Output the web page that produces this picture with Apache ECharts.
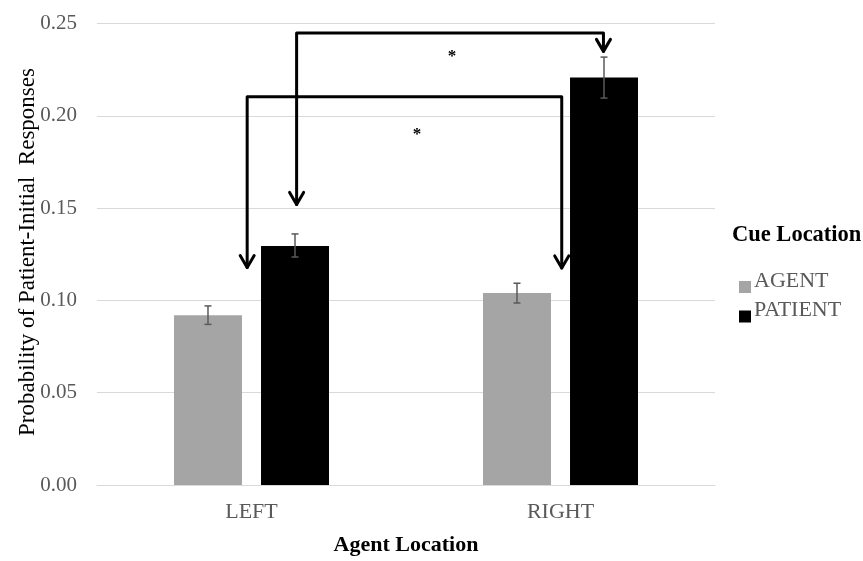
<!DOCTYPE html>
<html>
<head>
<meta charset="utf-8">
<script src="https://cdn.jsdelivr.net/npm/echarts@6/dist/echarts.min.js"></script>
<style>html,body{margin:0;padding:0;background:#fff;overflow:hidden;}#c{width:863px;height:561px;}</style>
</head>
<body>
<div id="c"></div>
<script>
// ---- data ----
const categories = ['LEFT', 'RIGHT'];
const seriesNames = ['AGENT', 'PATIENT'];
const agentValues = [0.092, 0.104];
const patientValues = [0.1295, 0.2207];
const agentErrLow = [0.087, 0.0986];
const agentErrHigh = [0.097, 0.1093];
const patientErrLow = [0.1235, 0.2096];
const patientErrHigh = [0.136, 0.2318];
const yTicks = [0, 0.05, 0.10, 0.15, 0.20, 0.25];
// brackets: [leftCat, leftOffset(band), leftTipValue, rightCat, rightOffset(band), rightTipValue, topValue]
const brackets = [
  [0, 0.146, 0.152, 1, 0.139, 0.2349, 0.2448],
  [0, -0.014, 0.1178, 1, 0.004, 0.1176, 0.2103]
];
// significance stars: [category position (band units), value, label]
const stars = [
  [0.649, 0.2322, '*'],
  [0.536, 0.1898, '*']
];

const FONT = '"Liberation Serif", "Times New Roman", serif';
const BAR_W = 0.22, BAR_GAP = 0.28;
const colors = ['#a5a5a5', '#000000'];

const chart = echarts.init(document.getElementById('c'), null, {renderer: 'canvas'});

function errorSeries(idx, low, high) {
  return {
    type: 'custom',
    name: seriesNames[idx] + ' err',
    silent: true,
    z: 5,
    data: low.map((l, i) => [i, l, high[i]]),
    renderItem: function (params, api) {
      const i = params.dataIndex;
      const band = api.size([1, 0])[0];
      const off = (idx === 0 ? -1 : 1) * (BAR_W + BAR_W * BAR_GAP) / 2 * band;
      const lo = api.coord([i, low[i]]);
      const hi = api.coord([i, high[i]]);
      const x = lo[0] + off;
      const cap = 3.5;
      const style = {stroke: '#595959', lineWidth: 1.5, fill: null};
      return {
        type: 'group',
        children: [
          {type: 'line', shape: {x1: x, y1: lo[1], x2: x, y2: hi[1]}, style: style},
          {type: 'line', shape: {x1: x - cap, y1: lo[1], x2: x + cap, y2: lo[1]}, style: style},
          {type: 'line', shape: {x1: x - cap, y1: hi[1], x2: x + cap, y2: hi[1]}, style: style}
        ]
      };
    }
  };
}

const legendIcon = 'path://M0,0 L0,0 M0,12 L12,12 L12,24 L0,24 Z';

const option = {
  backgroundColor: '#ffffff',
  animation: false,
  grid: {left: 97, top: 23.5, width: 618, height: 467.5, containLabel: false},
  legend: {
    data: seriesNames,
    orient: 'vertical',
    left: 739,
    top: 269,
    padding: 0,
    itemWidth: 12,
    itemHeight: 24,
    itemGap: 5.5,
    icon: legendIcon,
    textStyle: {fontFamily: FONT, fontSize: 22, color: '#595959', padding: [0, 0, 0, -2]}
  },
  xAxis: {
    type: 'category',
    data: categories,
    name: 'Agent Location',
    nameLocation: 'middle',
    nameGap: 49,
    nameTextStyle: {fontFamily: FONT, fontSize: 22, fontWeight: 'bold', color: '#000'},
    axisLine: {show: true, lineStyle: {color: '#d9d9d9', width: 1}},
    axisTick: {show: false},
    axisLabel: {fontFamily: FONT, fontSize: 22, color: '#595959', margin: 16}
  },
  yAxis: {
    type: 'value',
    min: yTicks[0],
    max: yTicks[yTicks.length - 1],
    interval: 0.05,
    axisLine: {show: false},
    axisTick: {show: false},
    splitLine: {lineStyle: {color: '#d9d9d9', width: 1}},
    axisLabel: {
      fontFamily: FONT, fontSize: 21, color: '#595959', margin: 20,
      formatter: v => v.toFixed(2)
    }
  },
  graphic: [
    {
      type: 'text',
      left: 732,
      top: 224,
      style: {text: 'Cue Location', fontFamily: FONT, fontSize: 22.5, fontWeight: 'bold', fill: '#000'}
    },
    {
      type: 'text',
      x: 28,
      y: 252,
      rotation: Math.PI / 2,
      style: {
        text: 'Probability of Patient-Initial  Responses',
        fontFamily: FONT, fontSize: 23, fill: '#000',
        align: 'center', verticalAlign: 'middle'
      }
    }
  ],
  series: [
    {
      type: 'bar',
      name: seriesNames[0],
      data: agentValues,
      barWidth: (BAR_W * 100) + '%',
      barGap: (BAR_GAP * 100) + '%',
      itemStyle: {color: colors[0]},
      z: 2
    },
    {
      type: 'bar',
      name: seriesNames[1],
      data: patientValues,
      barWidth: (BAR_W * 100) + '%',
      barGap: (BAR_GAP * 100) + '%',
      itemStyle: {color: colors[1]},
      z: 2
    },
    errorSeries(0, agentErrLow, agentErrHigh),
    errorSeries(1, patientErrLow, patientErrHigh),
    {
      type: 'custom',
      name: 'brackets',
      silent: true,
      z: 6,
      data: brackets.map(b => [b[0], b[6]]),
      renderItem: function (params, api) {
        const b = brackets[params.dataIndex];
        const band = api.size([1, 0])[0];
        const pt = (cat, off, v) => { const c = api.coord([cat, v]); return [c[0] + off * band, c[1]]; };
        const l = pt(b[0], b[1], b[2]);
        const lt = pt(b[0], b[1], b[6]);
        const rt = pt(b[3], b[4], b[6]);
        const r = pt(b[3], b[4], b[5]);
        const style = {stroke: '#000', lineWidth: 3, fill: null, lineJoin: 'round', lineCap: 'round'};
        const hw = 7, hh = 12;
        return {
          type: 'group',
          children: [
            {type: 'polyline', shape: {points: [l, lt, rt, r]}, style: style},
            {type: 'polyline', shape: {points: [[l[0] - hw, l[1] - hh], l, [l[0] + hw, l[1] - hh]]}, style: style},
            {type: 'polyline', shape: {points: [[r[0] - hw, r[1] - hh], r, [r[0] + hw, r[1] - hh]]}, style: style}
          ]
        };
      }
    },
    {
      type: 'custom',
      name: 'stars',
      silent: true,
      z: 6,
      data: stars.map(s => [0, s[1]]),
      renderItem: function (params, api) {
        const s = stars[params.dataIndex];
        const band = api.size([1, 0])[0];
        const c = api.coord([0, s[1]]);
        return {
          type: 'text',
          x: c[0] + s[0] * band,
          y: c[1],
          style: {text: s[2], fontFamily: FONT, fontSize: 17, fontWeight: 'bold', fill: '#000', align: 'center', verticalAlign: 'middle'}
        };
      }
    }
  ]
};
chart.setOption(option);
</script>
</body>
</html>
